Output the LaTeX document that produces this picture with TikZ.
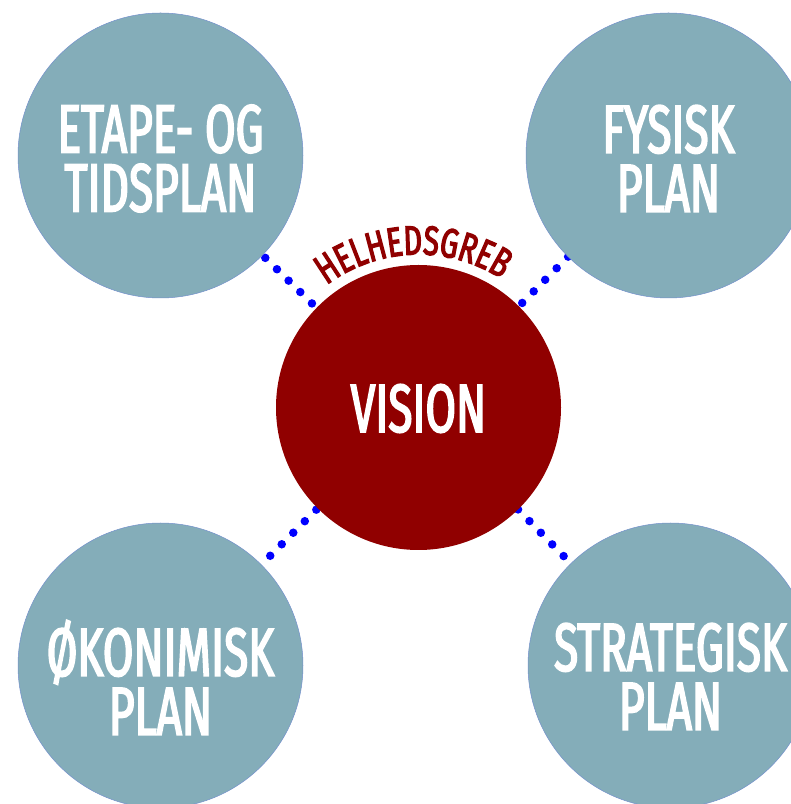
\documentclass[tikz,border=0pt]{standalone}
\usepackage{fontspec}
\setmainfont{Fira Sans}[FakeStretch=0.65,FakeBold=2.5]
\newfontfamily\arcfont{Fira Sans}[FakeStretch=0.70,FakeBold=3]
\usetikzlibrary{decorations.text,backgrounds}
\definecolor{rrqqqq}{rgb}{0.5647,0,0}
\definecolor{qqqqff}{rgb}{0,0,1}
\definecolor{ttwwzz}{rgb}{0.5176,0.6784,0.7255}
\definecolor{ssttdd}{rgb}{0.45,0.56,0.80}
\tikzset{
  plan/.style={circle,fill=ttwwzz,draw=ssttdd,line width=0.5pt,minimum size=285pt,inner sep=0pt,outer sep=0pt},
  core/.style={circle,fill=rrqqqq,minimum size=285pt,inner sep=0pt,outer sep=0pt},
  lbl/.style={text=white,align=center,inner sep=0pt,font=\fontsize{68}{59}\selectfont},
  dotline/.style={qqqqff,line width=8.5pt,line cap=round,dash pattern=on 0pt off 16.3pt}
}
\begin{document}
\begin{tikzpicture}[x=1pt,y=1pt]
  \useasboundingbox (0,0) rectangle (791,804);
  \clip (0,0) rectangle (791,804);
  % circles
  \node[plan] (tl) at (160.5,648.5) {};
  \node[plan] (tr) at (668.5,648.5) {};
  \node[plan] (bl) at (160.5,138.5) {};
  \node[plan] (br) at (670.5,138.5) {};
  \node[core] (c) at (418.5,396.5) {};
  % texts
  \node[lbl] (tltext) at ([yshift=-3pt]tl.center) {ETAPE- OG\\TIDSPLAN};
  \node[lbl] (trtext) at ([yshift=-3pt]tr.center) {FYSISK\\PLAN};
  \node[lbl] (bltext) at ([yshift=-12pt]bl.center) {ØKONIMISK\\PLAN};
  \node[lbl] (brtext) at ([yshift=-11pt]br.center) {STRATEGISK\\PLAN};
  \node[lbl] (ctext) at ([yshift=-1pt]c.center) {VISION};
  % dotted links
  \begin{scope}[on background layer]
    \draw[dotline,shorten <=4pt] (tl) -- (c);
    \draw[dotline] (tr) -- (c);
    \draw[dotline,shorten <=2pt] (c) -- (bl);
    \draw[dotline] (c) -- (br);
  \end{scope}
  \path[decorate,decoration={text along path,text align=center,
    text={|\arcfont\fontsize{41}{41}\selectfont\color{rrqqqq}|HELHEDSGREB}}]
    ([shift={(152:153)}]c.center) arc[start angle=152,end angle=32,radius=153];
\end{tikzpicture}
\end{document}
